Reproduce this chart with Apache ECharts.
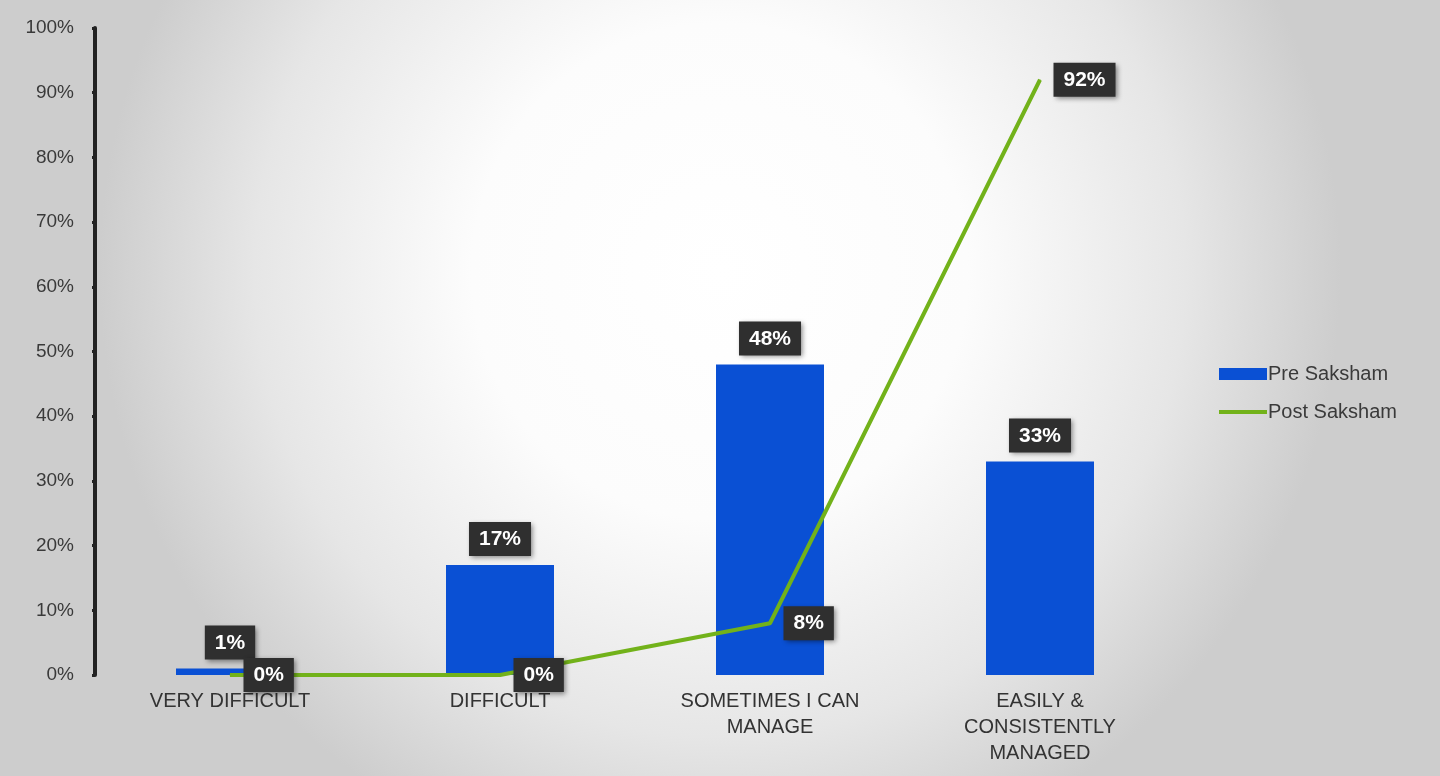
<!DOCTYPE html>
<html><head><meta charset="utf-8">
<script src="https://cdn.jsdelivr.net/npm/echarts@6/dist/echarts.min.js"></script>
<style>html,body{margin:0;padding:0;}#c{width:1440px;height:776px;}</style>
</head><body><div id="c"></div>
<script>
const categories = ['VERY DIFFICULT', 'DIFFICULT', 'SOMETIMES I CAN\nMANAGE', 'EASILY &\nCONSISTENTLY\nMANAGED'];
const preSaksham = [1, 17, 48, 33];
const postSaksham = [0, 0, 8, 92];
const seriesNames = ['Pre Saksham', 'Post Saksham'];

const chart = echarts.init(document.getElementById('c'));
const labelBox = {
  show: true,
  formatter: '{c}%',
  color: '#ffffff',
  fontFamily: 'Liberation Sans, Arial',
  fontWeight: 'bold',
  fontSize: 21,
  backgroundColor: '#2f2f2f',
  padding: [7, 10, 6, 10],
  shadowColor: 'rgba(0,0,0,0.45)',
  shadowBlur: 5,
  shadowOffsetX: 2,
  shadowOffsetY: 2
};
chart.setOption({
  backgroundColor: {
    type: 'radial', x: 0.5, y: 0.35, r: 0.8,
    colorStops: [
      { offset: 0, color: '#ffffff' },
      { offset: 0.4, color: '#fcfcfc' },
      { offset: 0.75, color: '#e6e6e6' },
      { offset: 1, color: '#cdcdcd' }
    ]
  },
  textStyle: { fontFamily: 'Liberation Sans, Arial' },
  grid: { left: 95, right: 265, top: 28, bottom: 101 },
  legend: {
    orient: 'vertical',
    left: 1214, top: 359,
    itemWidth: 48, itemHeight: 12,
    itemGap: 18,
    textStyle: { fontSize: 20, color: '#3a3a3a', padding: [0, 0, 0, -4] },
    data: [
      { name: seriesNames[0], icon: 'rect' },
      { name: seriesNames[1], icon: 'path://M0,4 L48,4 L48,8 L0,8 Z' }
    ]
  },
  xAxis: {
    type: 'category',
    data: categories,
    axisLine: { show: false },
    axisTick: { show: false },
    axisLabel: { color: '#333333', fontSize: 20, lineHeight: 26, margin: 13, interval: 0 }
  },
  yAxis: {
    type: 'value', min: 0, max: 100, interval: 10,
    axisLine: { show: true, lineStyle: { color: '#222222', width: 4 } },
    axisTick: { show: true, length: 3, lineStyle: { color: '#222222', width: 3 } },
    splitLine: { show: false },
    axisLabel: { formatter: '{value}%', color: '#3a3a3a', fontSize: 19, margin: 21 }
  },
  series: [
    {
      name: seriesNames[0], type: 'bar', data: preSaksham,
      barWidth: '40%',
      itemStyle: { color: '#0a50d4' },
      label: Object.assign({}, labelBox, { position: 'top', distance: 9 })
    },
    {
      name: seriesNames[1], type: 'line', data: postSaksham,
      symbol: 'circle', symbolSize: 1, showSymbol: true,
      lineStyle: { color: '#72b21a', width: 4 },
      itemStyle: { color: '#72b21a' },
      label: Object.assign({}, labelBox, { position: 'right', distance: 13 }),
      z: 3
    }
  ]
});
</script></body></html>
